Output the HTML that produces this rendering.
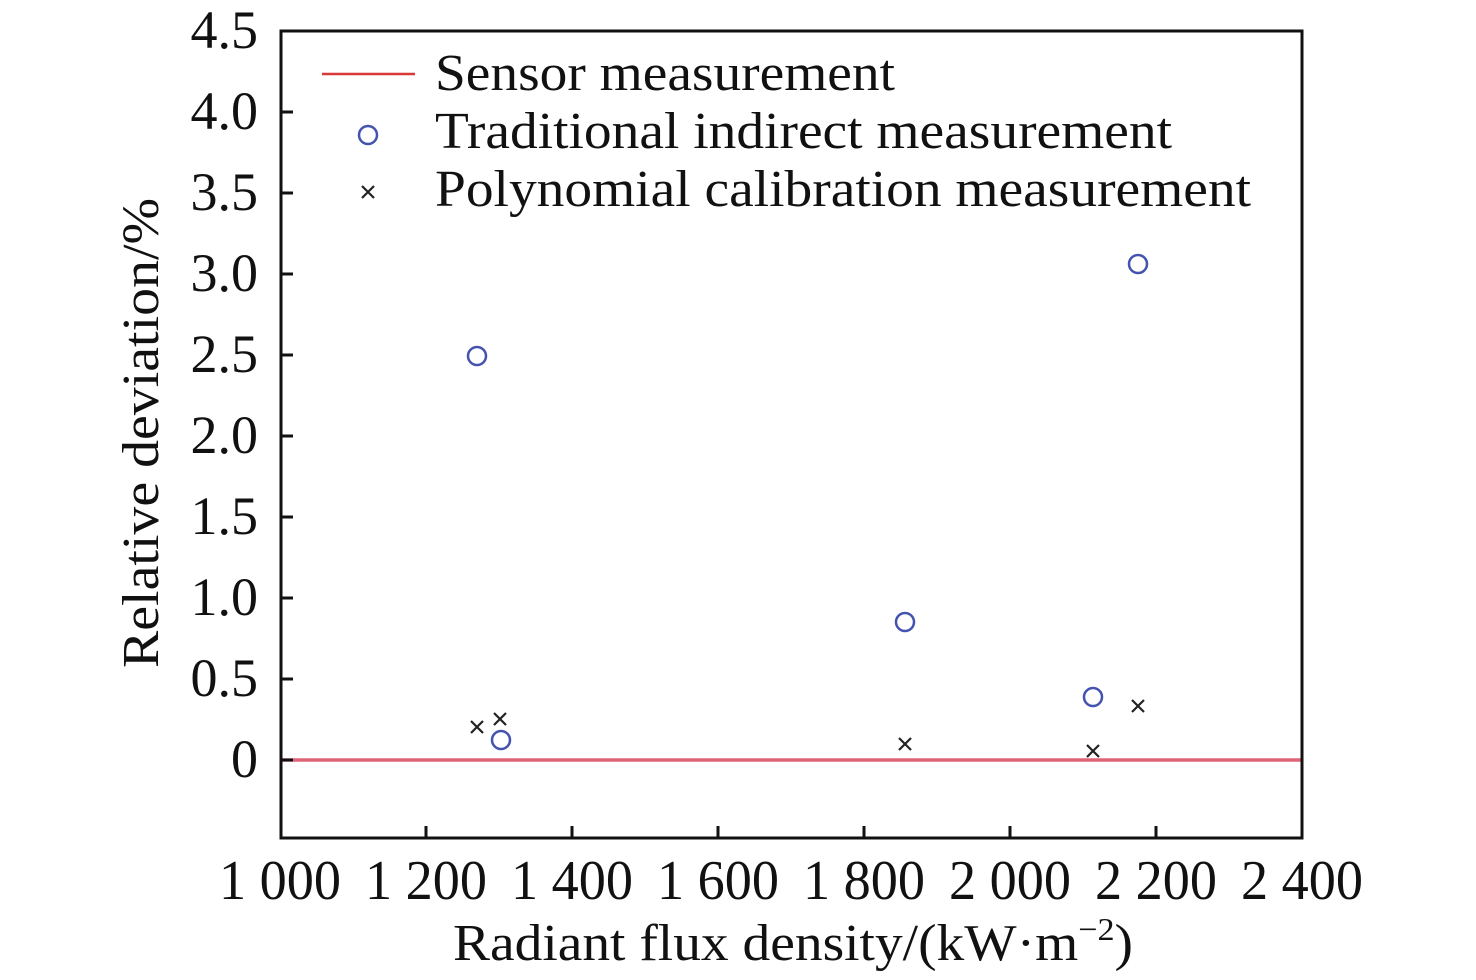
<!DOCTYPE html>
<html><head><meta charset="utf-8"><style>html,body{margin:0;padding:0;background:#fff}svg{display:block}svg text{font-family:"Liberation Serif","Times New Roman",Times,serif}</style></head>
<body>
<svg width="1476" height="980" viewBox="0 0 1476 980" xmlns="http://www.w3.org/2000/svg" fill="#111">
<rect width="1476" height="980" fill="#fff"/>
<line x1="281" y1="760" x2="1302" y2="760" stroke="#e06478" stroke-width="3.5"/>
<rect x="281" y="31" width="1021" height="807" fill="none" stroke="#111" stroke-width="3"/>
<g stroke="#111" stroke-width="3">
<line x1="281" y1="760" x2="293" y2="760"/><line x1="281" y1="679" x2="293" y2="679"/><line x1="281" y1="598" x2="293" y2="598"/><line x1="281" y1="517" x2="293" y2="517"/><line x1="281" y1="436" x2="293" y2="436"/><line x1="281" y1="355" x2="293" y2="355"/><line x1="281" y1="274" x2="293" y2="274"/><line x1="281" y1="193" x2="293" y2="193"/><line x1="281" y1="112" x2="293" y2="112"/>
<line x1="426" y1="838" x2="426" y2="826"/><line x1="572" y1="838" x2="572" y2="826"/><line x1="718" y1="838" x2="718" y2="826"/><line x1="864" y1="838" x2="864" y2="826"/><line x1="1010" y1="838" x2="1010" y2="826"/><line x1="1156" y1="838" x2="1156" y2="826"/>
</g>
<g font-size="54" text-anchor="end">
<text x="258" y="48">4.5</text><text x="258" y="129">4.0</text><text x="258" y="210">3.5</text><text x="258" y="291">3.0</text><text x="258" y="372">2.5</text><text x="258" y="453">2.0</text><text x="258" y="534">1.5</text><text x="258" y="615">1.0</text><text x="258" y="696">0.5</text><text x="258" y="777">0</text>
</g>
<g font-size="56">
<text x="219" y="899" textLength="122" lengthAdjust="spacingAndGlyphs">1 000</text>
<text x="365" y="899" textLength="122" lengthAdjust="spacingAndGlyphs">1 200</text>
<text x="511" y="899" textLength="122" lengthAdjust="spacingAndGlyphs">1 400</text>
<text x="657" y="899" textLength="122" lengthAdjust="spacingAndGlyphs">1 600</text>
<text x="803" y="899" textLength="122" lengthAdjust="spacingAndGlyphs">1 800</text>
<text x="949" y="899" textLength="122" lengthAdjust="spacingAndGlyphs">2 000</text>
<text x="1095" y="899" textLength="122" lengthAdjust="spacingAndGlyphs">2 200</text>
<text x="1241" y="899" textLength="122" lengthAdjust="spacingAndGlyphs">2 400</text>
</g>
<text x="453" y="960" font-size="52" textLength="680" lengthAdjust="spacingAndGlyphs">Radiant flux density/(kW·m<tspan dy="-20" font-size="32">−2</tspan><tspan dy="20">)</tspan></text>
<text transform="translate(158,433) rotate(-90)" text-anchor="middle" font-size="52" textLength="470" lengthAdjust="spacingAndGlyphs">Relative deviation/%</text>
<line x1="322" y1="74" x2="415" y2="74" stroke="#d83838" stroke-width="2.5"/>
<g fill="none" stroke="#4452b0" stroke-width="2.5">
<circle cx="368" cy="135" r="9"/>
<circle cx="477" cy="356" r="9"/><circle cx="501" cy="740" r="9"/><circle cx="905" cy="622" r="9"/><circle cx="1093" cy="697" r="9"/><circle cx="1138" cy="264" r="9"/>
</g>
<g stroke="#222" stroke-width="2.2">
<path d="M362 186l12 12M374 186l-12 12"/>
<path d="M471 721l12 12M483 721l-12 12"/>
<path d="M494 713l12 12M506 713l-12 12"/>
<path d="M899 738l12 12M911 738l-12 12"/>
<path d="M1087 745l12 12M1099 745l-12 12"/>
<path d="M1132 700l12 12M1144 700l-12 12"/>
</g>
<g font-size="52">
<text x="435" y="90" textLength="460" lengthAdjust="spacingAndGlyphs">Sensor measurement</text>
<text x="435" y="148" textLength="737" lengthAdjust="spacingAndGlyphs">Traditional indirect measurement</text>
<text x="435" y="206" textLength="816" lengthAdjust="spacingAndGlyphs">Polynomial calibration measurement</text>
</g>
</svg>
</body></html>
